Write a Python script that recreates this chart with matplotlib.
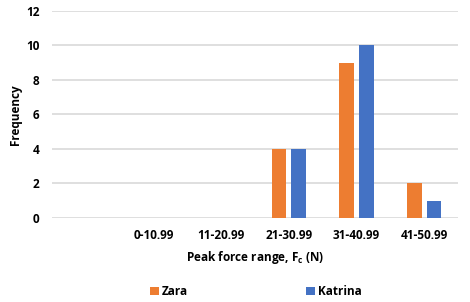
import matplotlib
matplotlib.use('Agg')
import matplotlib.pyplot as plt
import numpy as np

plt.rcParams['font.family'] = ['Open Sans', 'DejaVu Sans']
plt.rcParams['mathtext.fontset'] = 'custom'
plt.rcParams['mathtext.bf'] = 'Open Sans:bold'

categories = ['', '0-10.99', '11-20.99', '21-30.99', '31-40.99', '41-50.99']
zara = [0, 0, 0, 4, 9, 2]
katrina = [0, 0, 0, 4, 10, 1]

ORANGE = '#ED7D31'
BLUE = '#4472C4'
BAR_W = 0.22
OFFSET = 0.145

fig = plt.figure(figsize=(4.7, 3.02), dpi=100)
ax = fig.add_axes([0.1106, 0.278, 0.8639, 0.6866])

x = np.arange(len(categories))
ax.bar(x - OFFSET, zara, width=BAR_W, color=ORANGE, label='Zara', zorder=3)
ax.bar(x + OFFSET, katrina, width=BAR_W, color=BLUE, label='Katrina', zorder=3)

ax.set_xlim(-0.5, len(categories) - 0.5)
ax.set_ylim(0, 12)
ax.set_yticks(range(0, 13, 2))
ax.set_xticks(x)
ax.set_xticklabels(categories)
ax.yaxis.grid(True, color='#D9D9D9', linewidth=1.2, zorder=0)
ax.set_axisbelow(True)
for s in ax.spines.values():
    s.set_visible(False)
ax.tick_params(axis='both', length=0, labelsize=8.5, colors='#000000')
ax.tick_params(axis='x', pad=8)
ax.tick_params(axis='y', pad=9)
for lbl in ax.get_xticklabels() + ax.get_yticklabels():
    lbl.set_fontweight('bold')

ax.set_ylabel('Frequency', fontsize=8.5, fontweight='bold', labelpad=3)
ax.set_xlabel(r'Peak force range, F$_\mathbf{c}$ (N)', fontsize=8.5,
              fontweight='bold', labelpad=5)

leg = fig.legend(loc='center', bbox_to_anchor=(0.545, 0.035), ncol=2,
                 frameon=False, handlelength=0.7, handleheight=0.7,
                 handletextpad=0.3, columnspacing=10,
                 prop={'size': 8.5, 'weight': 'bold'})

fig.savefig('out.png', dpi=100)
